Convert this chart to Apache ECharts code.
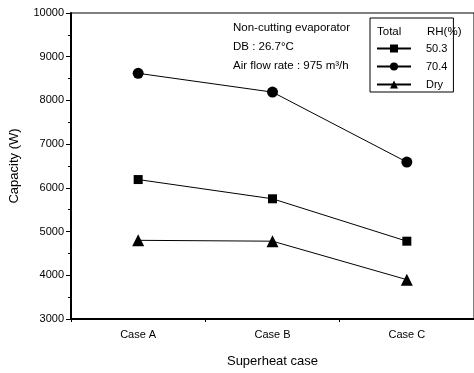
<!DOCTYPE html>
<html>
<head>
<meta charset="utf-8">
<script src="https://cdn.jsdelivr.net/npm/echarts@6/dist/echarts.min.js"></script>
<style>
html,body{margin:0;padding:0;background:#fff;}
#chart{width:474px;height:373px;}
</style>
</head>
<body>
<div id="chart"></div>
<script>
const categories = ['Case A', 'Case B', 'Case C'];
const seriesNames = ['50.3', '70.4', 'Dry'];
const rh503 = [6190, 5750, 4780];
const rh704 = [8620, 8190, 6590];
const dry = [4800, 4780, 3900];
const yTicks = [3000, 4000, 5000, 6000, 7000, 8000, 9000, 10000];
const noteLines = ['Non-cutting evaporator', 'DB : 26.7\u00B0C', 'Air flow rate : 975 m\u00B3/h'];

const FONT = 'Liberation Sans, Arial, sans-serif';
const chart = echarts.init(document.getElementById('chart'), null, {renderer: 'canvas'});

function mkSeries(name, data, symbol, size) {
  return {
    name: name, type: 'line', data: data, xAxisIndex: 0,
    symbol: symbol, symbolSize: size,
    lineStyle: {color: '#000', width: 1},
    itemStyle: {color: '#000'},
    animation: false
  };
}

chart.setOption({
  backgroundColor: '#fff',
  animation: false,
  grid: {left: 70, top: 13, width: 405, height: 310, show: true, borderColor: '#000', borderWidth: 1, containLabel: false},
  xAxis: [{
    type: 'category', data: categories, boundaryGap: true,
    axisLine: {lineStyle: {color: '#000', width: 2}},
    axisTick: {alignWithLabel: true, length: 5, lineStyle: {color: '#000', width: 1.5}},
    axisLabel: {color: '#000', fontFamily: FONT, fontSize: 11, margin: 10},
    splitLine: {show: false},
    name: 'Superheat case', nameLocation: 'middle', nameGap: 36,
    nameTextStyle: {color: '#000', fontFamily: FONT, fontSize: 13}
  }, {
    type: 'value', min: 0, max: 6, interval: 2, position: 'bottom',
    axisLine: {show: false}, axisLabel: {show: false}, splitLine: {show: false},
    axisTick: {show: true, length: 3, lineStyle: {color: '#000'}}
  }],
  yAxis: {
    type: 'value', min: yTicks[0], max: yTicks[yTicks.length - 1], interval: 1000,
    axisLine: {show: true, lineStyle: {color: '#000', width: 2}},
    axisTick: {show: true, length: 5, lineStyle: {color: '#000', width: 1}},
    minorTick: {show: true, splitNumber: 2, length: 3, lineStyle: {color: '#000'}},
    axisLabel: {color: '#000', fontFamily: FONT, fontSize: 11, margin: 7, formatter: function (v) { return String(v); }},
    splitLine: {show: false},
    name: 'Capacity (W)', nameLocation: 'middle', nameGap: 50,
    nameTextStyle: {color: '#000', fontFamily: FONT, fontSize: 13}
  },
  legend: {
    data: seriesNames,
    orient: 'vertical', left: 370, top: 18,
    padding: [25, 6, 2, 6], itemGap: 7,
    itemWidth: 34, itemHeight: 10,
    borderColor: '#000', borderWidth: 1,
    textStyle: {color: '#000', fontFamily: FONT, fontSize: 11, padding: [0, 0, 0, 10], width: 44}
  },
  graphic: [
    {type: 'text', left: 233, top: 22, style: {text: noteLines[0], fill: '#000', font: '11.5px ' + FONT}},
    {type: 'text', left: 233, top: 41, style: {text: noteLines[1], fill: '#000', font: '11.5px ' + FONT}},
    {type: 'text', left: 233, top: 60, style: {text: noteLines[2], fill: '#000', font: '11.5px ' + FONT}},
    {type: 'text', left: 377, top: 26, style: {text: 'Total', fill: '#000', font: '11.5px ' + FONT}},
    {type: 'text', left: 427, top: 26, style: {text: 'RH(%)', fill: '#000', font: '11.5px ' + FONT}}
  ],
  series: [
    mkSeries(seriesNames[0], rh503, 'rect', 9),
    mkSeries(seriesNames[1], rh704, 'circle', 11),
    mkSeries(seriesNames[2], dry, 'triangle', 12)
  ]
});
</script>
</body>
</html>
